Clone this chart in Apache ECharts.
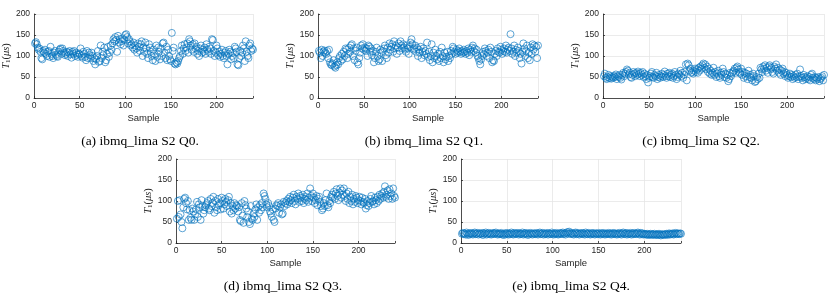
<!DOCTYPE html>
<html><head><meta charset="utf-8">
<script src="https://cdn.jsdelivr.net/npm/echarts@6/dist/echarts.min.js"></script>
<style>html,body{margin:0;padding:0;background:#fff}#c{width:830px;height:303px}</style>
</head><body><div id="c"></div>
<script>
const xTicks = [0, 50, 100, 150, 200];
const yTicks = [0, 50, 100, 150, 200];
const captions = ['(a) ibmq_lima S2 Q0.', '(b) ibmq_lima S2 Q1.', '(c) ibmq_lima S2 Q2.', '(d) ibmq_lima S2 Q3.', '(e) ibmq_lima S2 Q4.'];

const q0 = [130,133,128,120,115,118,110,95,92,112,
108,115,105,100,110,112,98,122,105,100,
95,108,112,103,100,98,110,115,118,105,
118,112,108,102,105,110,100,108,112,104,
96,110,105,112,100,108,103,98,106,104,
118,100,96,110,105,98,90,112,95,108,
102,95,108,100,88,95,80,92,100,112,
86,88,125,95,110,102,120,85,90,105,
122,98,108,125,115,130,140,135,145,138,
110,148,132,140,128,135,142,125,138,150,
152,145,130,140,135,125,128,120,132,115,
125,118,108,130,122,112,128,135,100,120,
110,132,118,105,95,128,120,110,100,90,
115,105,88,125,98,120,110,92,118,100,
130,132,108,95,122,90,115,100,92,88,
155,112,120,82,80,85,82,88,95,100,
112,125,105,118,128,112,120,130,108,140,
135,125,115,128,110,130,118,122,105,112,
100,118,125,108,115,110,120,105,128,115,
110,122,118,105,140,138,112,100,108,125,
118,102,110,98,105,115,100,95,108,112,
100,80,105,115,110,92,100,108,95,122,
118,110,80,78,95,112,100,108,125,118,
88,135,110,100,95,125,130,112,118,115];

const q1 = [112,108,95,115,100,110,113,108,105,112,
95,115,85,80,78,82,90,75,72,78,
85,80,95,100,88,105,92,110,100,118,
115,95,105,120,110,125,128,100,118,90,
112,120,85,80,95,108,125,118,128,115,
120,112,118,100,125,122,110,118,102,112,
85,95,110,120,100,88,92,115,108,88,
112,118,125,102,95,120,108,130,115,122,
128,110,135,118,125,105,120,130,112,135,
125,118,128,120,115,110,125,118,105,122,
132,140,128,115,118,125,110,120,100,115,
108,122,95,110,118,102,112,105,132,98,
110,90,100,128,85,108,95,115,100,92,
105,88,110,95,120,100,85,108,92,98,
110,88,100,95,112,105,122,118,110,105,
115,108,112,118,110,105,112,108,115,110,
105,112,108,118,102,115,110,120,125,112,
118,108,115,100,95,88,80,92,100,110,
105,118,112,100,108,115,95,120,110,85,
90,88,105,112,100,118,110,108,122,115,
105,112,118,110,125,108,115,120,112,152,
118,105,110,125,100,115,108,120,112,95,
105,82,110,130,118,100,112,125,95,108,
90,120,105,128,115,125,110,122,95,125];

const q2 = [52,58,48,45,50,55,47,52,46,50,
48,53,50,56,45,52,50,55,48,44,
55,60,52,58,62,68,65,56,60,50,
48,55,62,58,52,60,55,63,58,52,
60,55,62,50,58,52,45,55,37,48,
52,58,62,50,48,55,52,60,45,50,
55,48,52,58,50,55,63,52,48,58,
52,60,50,55,58,48,52,62,55,45,
50,58,55,65,52,60,48,55,62,80,
42,82,78,65,70,60,62,58,65,70,
62,68,60,72,65,75,70,78,82,72,
80,68,75,62,70,58,65,55,60,72,
55,62,50,58,65,52,48,60,55,70,
62,50,58,48,55,40,45,60,52,58,
62,65,70,60,72,75,68,62,58,70,
55,62,48,60,52,58,45,65,50,55,
48,42,58,52,38,40,50,45,58,48,
72,68,62,75,70,78,65,72,60,75,
78,68,72,62,58,75,70,80,65,72,
60,68,55,65,70,58,62,52,60,55,
48,52,58,50,55,45,52,48,55,50,
58,45,50,68,52,48,42,55,50,45,
48,52,45,50,42,55,58,48,45,50,
42,48,45,50,40,45,48,52,42,55];

const q3 = [58,100,62,102,68,50,35,85,105,108,
95,80,100,55,78,60,55,82,75,55,
68,80,98,62,92,85,55,102,88,70,
78,85,90,95,100,82,78,105,88,95,
110,72,100,85,78,105,90,95,80,108,
100,82,92,105,98,88,102,110,75,95,
70,88,78,95,82,90,88,75,85,55,
52,95,65,48,100,90,82,62,75,50,
45,88,58,55,70,62,80,92,55,85,
72,90,78,95,85,118,112,105,92,85,
95,88,75,70,62,80,55,50,82,90,
88,95,72,85,92,68,70,98,88,95,
100,92,105,98,110,102,95,108,115,100,
92,110,105,118,98,112,108,100,115,95,
105,110,102,118,98,108,130,112,100,118,
108,95,102,112,90,105,110,98,88,78,
82,95,88,102,118,90,85,100,95,110,
115,108,122,105,118,128,112,102,120,130,
108,125,115,130,112,100,118,105,122,95,
110,100,115,92,105,98,112,108,95,102,
110,100,92,108,98,95,105,82,90,100,
88,95,105,112,98,100,92,108,102,95,
110,100,115,105,112,118,108,122,135,110,
115,125,105,128,112,118,105,130,112,108];

const q4 = [22,24,21,23,20,25,22,19,23,21,
24,22,20,23,25,21,22,24,20,23,
22,21,24,19,23,22,25,20,22,24,
21,23,20,22,24,21,23,25,22,20,
23,21,22,24,20,22,19,23,21,24,
22,20,23,21,25,22,20,24,21,23,
22,24,20,23,21,22,25,20,23,21,
24,22,19,23,21,24,22,20,23,22,
21,24,22,20,23,25,21,22,24,20,
23,21,22,24,20,23,22,21,25,22,
20,23,21,24,22,20,23,21,24,22,
25,21,23,20,24,26,22,27,23,21,
24,22,20,23,25,21,24,22,20,23,
22,24,21,23,20,25,22,21,24,22,
20,23,21,24,22,20,23,22,21,24,
22,20,23,21,24,22,20,23,21,22,
24,21,23,20,22,24,21,23,22,20,
23,21,24,22,20,23,25,21,22,24,
20,23,21,22,24,20,23,21,24,22,
21,23,25,22,20,24,21,23,20,22,
21,20,22,19,21,20,22,19,21,20,
22,19,20,21,19,22,20,18,21,20,
19,21,20,22,19,21,23,20,22,21,
23,20,22,24,21,23,22,21,23,22];

const seriesData = [q0, q1, q2, q3, q4];
const grids = [
  {left: 32, top: 14, width: 221, height: 84},
  {left: 318, top: 14, width: 220, height: 84},
  {left: 603, top: 14, width: 221, height: 84},
  {left: 176, top: 159, width: 219, height: 84},
  {left: 461, top: 159, width: 220, height: 84}
];
const capPos = [[140, 141], [424, 141], [701, 141], [283, 286], [571, 286]];

const txt = '#262626';
const option = {
  animation: false,
  grid: grids,
  xAxis: grids.map((g, i) => ({
    gridIndex: i, type: 'value', min: 0, max: 240, interval: 50,
    name: 'Sample', nameLocation: 'middle', nameGap: 15,
    nameTextStyle: {fontFamily: 'Liberation Sans', fontSize: 9.5, color: txt},
    axisLine: {show: true, onZero: false, lineStyle: {color: '#262626', width: 0.8}},
    axisTick: {show: true, inside: true, length: 2, lineStyle: {color: '#262626', width: 0.8}},
    axisLabel: {fontFamily: 'Liberation Sans', fontSize: 8.5, color: txt, margin: 3,
      formatter: v => xTicks.includes(v) ? String(v) : ''},
    splitLine: {show: true, lineStyle: {color: '#e6e6e6', width: 0.8}}
  })),
  yAxis: grids.map((g, i) => ({
    gridIndex: i, type: 'value', min: 0, max: 200, interval: 50,
    name: '{i|T}{s|1}{n|(}{i|μs}{n|)}', nameLocation: 'middle', nameGap: 19, nameRotate: 90,
    nameTextStyle: {fontFamily: 'Liberation Serif', fontSize: 10, color: txt,
      rich: {
        i: {fontFamily: 'Liberation Serif', fontStyle: 'italic', fontSize: 10.5, color: txt},
        n: {fontFamily: 'Liberation Serif', fontSize: 10.5, color: txt},
        s: {fontFamily: 'Liberation Serif', fontSize: 7, color: txt, padding: [4, 0, 0, 0]}
      }},
    axisLine: {show: true, onZero: false, lineStyle: {color: '#262626', width: 0.8}},
    axisTick: {show: true, inside: true, length: 2, lineStyle: {color: '#262626', width: 0.8}},
    axisLabel: {fontFamily: 'Liberation Sans', fontSize: 8.5, color: txt, margin: 4,
      formatter: v => yTicks.includes(v) ? String(v) : ''},
    splitLine: {show: true, lineStyle: {color: '#e6e6e6', width: 0.8}}
  })),
  series: seriesData.map((d, i) => ({
    type: 'scatter', xAxisIndex: i, yAxisIndex: i,
    data: d.map((v, k) => [k + 1, v]),
    symbol: 'circle', symbolSize: 7,
    itemStyle: {color: 'rgba(0,0,0,0)', borderColor: '#0072BD', borderWidth: 0.8},
    emphasis: {disabled: true}
  })),
  graphic: captions.map((c, i) => ({
    type: 'text', x: capPos[i][0], y: capPos[i][1],
    style: {text: c, fontFamily: 'Liberation Serif', fontSize: 13.5, fill: '#000',
      align: 'center', verticalAlign: 'middle'}
  }))
};
const chart = echarts.init(document.getElementById('c'), null, {renderer: 'canvas'});
chart.setOption(option);
</script></body></html>
